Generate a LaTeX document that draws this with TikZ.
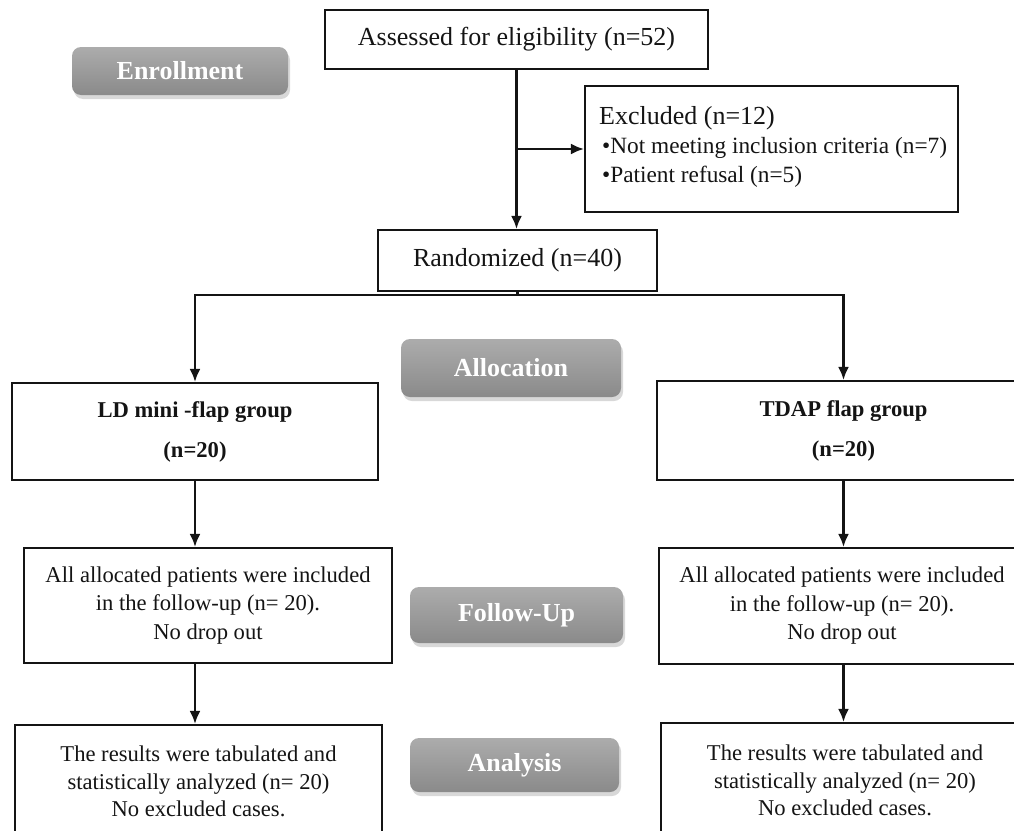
\documentclass[tikz,border=0pt]{standalone}
\usepackage{fontspec}
\setmainfont{Liberation Serif}
\usetikzlibrary{arrows.meta,shadows,calc}
\definecolor{btntop}{RGB}{172,172,172}
\definecolor{btnbot}{RGB}{138,138,138}
\definecolor{ink}{RGB}{20,20,20}
\begin{document}
\begin{tikzpicture}[x=1pt,y=-1pt,
  box/.style={draw=ink, line width=2.2pt, fill=white, inner sep=0pt, text=ink, align=center},
  btn/.style={rounded corners=9pt, top color=btntop, bottom color=btnbot, draw=none, text=white, inner sep=0pt,
    font=\fontsize{26}{30}\selectfont\bfseries,
    drop shadow={opacity=0.3, shadow xshift=2pt, shadow yshift=-4pt}},
  txt/.style={anchor=west, inner sep=0pt, text=ink},
  arr/.style={draw=ink, line width=2.2pt, -{Latex[length=13pt,width=11pt]}},
  ln/.style={draw=ink, line width=2.2pt},
  big/.style={font=\fontsize{26}{30}\selectfont},
  small/.style={font=\fontsize{22.6}{28.5}\selectfont}
]
\useasboundingbox (0,0) rectangle (1014,830);
\fill[white] (0,0) rectangle (1014,830);
\clip (0,0) rectangle (1014,830);

% boxes
\node[box, big, minimum width=383pt, minimum height=59pt] (assess) at (516.5,39.5) {Assessed for eligibility (n=52)};
\node[box, minimum width=373pt, minimum height=126pt] (excl) at (771.5,149) {};
\node[txt, big] (exclT) at (599,118) {Excluded (n=12)};
\node[txt, font=\fontsize{23.3}{28}\selectfont] (exclA) at (602,148) {•Not meeting inclusion criteria (n=7)};
\node[txt, font=\fontsize{23.3}{28}\selectfont] (exclB) at (602,177) {•Patient refusal (n=5)};
\node[box, big, minimum width=279pt, minimum height=61pt] (rand) at (517.5,260.5) {Randomized (n=40)};

\node[box, font=\fontsize{22.6}{40}\selectfont\bfseries, minimum width=366pt, minimum height=97pt] (ld) at (195,431.5) {LD mini -flap group\\(n=20)};
\node[box, font=\fontsize{22.6}{40}\selectfont\bfseries, minimum width=373pt, minimum height=99pt] (tdap) at (843.5,430.5) {TDAP flap group\\(n=20)};

\node[box, small, minimum width=368pt, minimum height=115pt] (fl) at (208,605.5) {All allocated patients were included\\in the follow-up (n= 20).\\No drop out};
\node[box, small, minimum width=366pt, minimum height=116pt] (fr) at (842,606) {All allocated patients were included\\in the follow-up (n= 20).\\No drop out};

\node[box, font=\fontsize{22.6}{27.5}\selectfont, minimum width=367pt, minimum height=113pt] (al) at (198.5,781.5) {The results were tabulated and\\statistically analyzed (n= 20)\\No excluded cases.};
\node[box, font=\fontsize{22.6}{27.5}\selectfont, minimum width=368pt, minimum height=115pt] (ar) at (845,780.5) {The results were tabulated and\\statistically analyzed (n= 20)\\No excluded cases.};

% phase labels
\node[btn, minimum width=216pt, minimum height=48pt] (enr) at (180,71) {Enrollment};
\node[btn, minimum width=220pt, minimum height=58pt] (alloc) at (511,368) {Allocation};
\node[btn, minimum width=213pt, minimum height=56pt] (fu) at (516.5,615) {Follow-Up};
\node[btn, minimum width=209pt, minimum height=54pt] (ana) at (514.5,765) {Analysis};

% connectors
\coordinate (exclbr) at (assess.south |- excl.west);
\coordinate (split) at ($(rand.south)+(0,3)$);
\draw[arr] (assess.south) -- (assess.south |- rand.north);
\draw[arr] (exclbr) -- (excl.west);
\draw[ln] (rand.south) -- (split);
\draw[arr] (split) -| (ld.north);
\draw[arr] (split) -| (tdap.north);
\draw[arr] (ld.south) -- (ld.south |- fl.north);
\draw[arr] (fl.south -| ld.south) -- (ld.south |- al.north);
\draw[arr] (tdap.south) -- (tdap.south |- fr.north);
\draw[arr] (fr.south -| tdap.south) -- (tdap.south |- ar.north);
\end{tikzpicture}
\end{document}
